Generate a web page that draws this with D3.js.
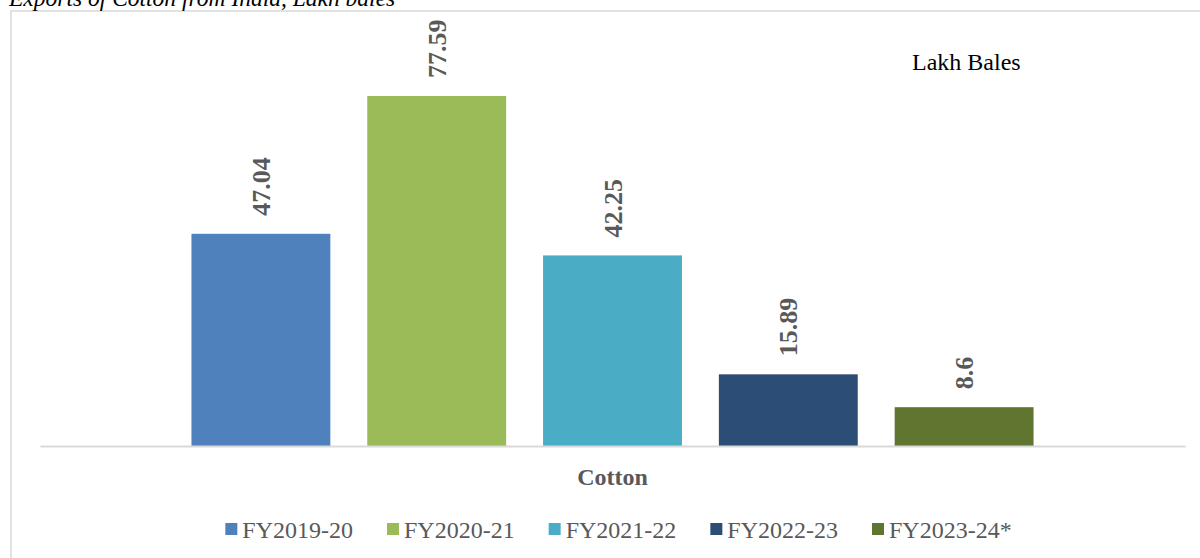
<!DOCTYPE html>
<html>
<head>
<meta charset="utf-8">
<script src="https://cdn.jsdelivr.net/npm/d3@7/dist/d3.min.js"></script>
<style>
  html, body { margin: 0; padding: 0; background: #fff; }
  svg { display: block; }
</style>
</head>
<body>
<svg id="chart" width="1200" height="558"></svg>
<script>
// Cotton exports from India, lakh bales
const categories = ["Cotton"];
const seriesNames = ["FY2019-20", "FY2020-21", "FY2021-22", "FY2022-23", "FY2023-24*"];
const seriesValues = [47.04, 77.59, 42.25, 15.89, 8.6];
const seriesColors = ["#4F81BD", "#9BBB59", "#4BACC6", "#2C4D75", "#5F7530"];

const svg = d3.select("#chart");
const W = 1200, H = 558;
const plot = { left: 40, right: 1185, top: 40, bottom: 446 };
const serif = "'Liberation Serif', 'Times New Roman', serif";

// Chart frame (left and top edges visible)
svg.append("path")
  .attr("d", `M11,${H} V11 H${W}`)
  .attr("fill", "none")
  .attr("stroke", "#D9D9D9")
  .attr("stroke-width", 1.5);

// Caption above the frame
svg.append("text")
  .attr("x", 9).attr("y", 6)
  .attr("font-family", serif)
  .attr("font-style", "italic")
  .attr("font-size", 23.5)
  .attr("fill", "#000")
  .text("Exports of Cotton from India, Lakh bales");

// Scales
const x0 = d3.scaleBand()
  .domain(categories)
  .range([plot.left, plot.right])
  .paddingInner(0)
  .paddingOuter(0.1513);

const x1 = d3.scaleBand()
  .domain(seriesNames)
  .range([0, x0.bandwidth()])
  .paddingInner(0.21)
  .paddingOuter(0.105);

const y = d3.scaleLinear().domain([0, 90]).range([plot.bottom, plot.top]);

const rows = seriesNames.map((s, i) => ({ series: s, value: seriesValues[i], color: seriesColors[i] }));

// Bars
const group = svg.append("g")
  .attr("transform", `translate(${x0(categories[0])},0)`);

group.selectAll("rect")
  .data(rows)
  .join("rect")
  .attr("x", d => x1(d.series))
  .attr("y", d => y(d.value))
  .attr("width", x1.bandwidth())
  .attr("height", d => y(0) - y(d.value))
  .attr("fill", d => d.color);

// Value labels, rotated
group.selectAll("text.value")
  .data(rows)
  .join("text")
  .attr("class", "value")
  .attr("transform", d => `translate(${x1(d.series) + x1.bandwidth() / 2 + 9},${y(d.value) - 18}) rotate(-90)`)
  .attr("text-anchor", "start")
  .attr("font-family", serif)
  .attr("font-weight", "bold")
  .attr("font-size", 26)
  .attr("fill", "#595959")
  .text(d => d.value);

// Category axis
const axis = svg.append("g")
  .attr("transform", `translate(0,${plot.bottom})`)
  .call(d3.axisBottom(x0).tickSize(0).tickSizeOuter(0).tickPadding(22));

axis.select(".domain")
  .attr("stroke", "#D9D9D9")
  .attr("stroke-width", 2);

axis.selectAll(".tick text")
  .attr("font-family", serif)
  .attr("font-weight", "bold")
  .attr("font-size", 24)
  .attr("fill", "#595959");

// Unit note
svg.append("text")
  .attr("x", 912).attr("y", 70)
  .attr("font-family", serif)
  .attr("font-size", 24)
  .attr("fill", "#000")
  .text("Lakh Bales");

// Legend
const legend = svg.append("g");
const items = legend.selectAll("g")
  .data(rows)
  .join("g");

items.append("rect")
  .attr("width", 12).attr("height", 12)
  .attr("y", -15)
  .attr("fill", d => d.color);

items.append("text")
  .attr("x", 17)
  .attr("font-family", serif)
  .attr("font-size", 24)
  .attr("fill", "#595959")
  .text(d => d.series);

let cursor = 0;
items.each(function () {
  const g = d3.select(this);
  g.attr("transform", `translate(${cursor},0)`);
  cursor += 17 + g.select("text").node().getComputedTextLength() + 34;
});
const legendWidth = cursor - 34;
legend.attr("transform", `translate(${618.5 - legendWidth / 2},538)`);
</script>
</body>
</html>
